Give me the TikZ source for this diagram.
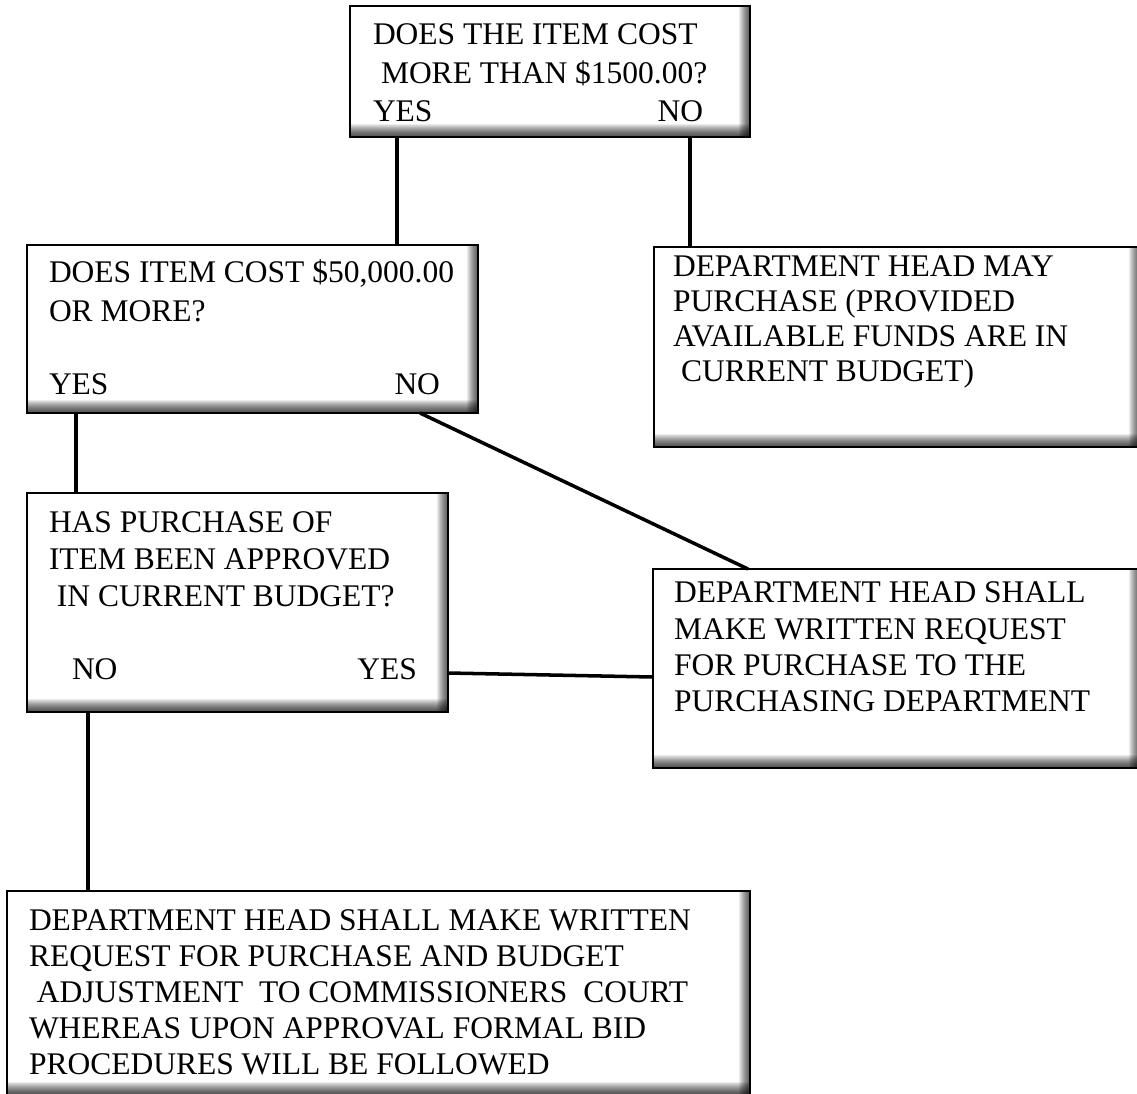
\documentclass[tikz,border=0pt]{standalone}
\usepackage{fontspec}
\setmainfont{Liberation Serif}
\usetikzlibrary{calc}

% one pixel of the sheet
\newlength{\pxu}
\setlength{\pxu}{0.025cm}
% box text: width, height, left inset, top gap, line pitch, lines
\newcommand{\boxtext}[6]{%
  \parbox[c][#2\pxu][t]{#1\pxu}{\leftskip=#3\pxu\rightskip=0pt plus 1fil
    \baselineskip=#5\pxu\vspace*{#4\pxu}#6}}
\newcommand{\lead}{\hspace*{8\pxu}}

\begin{document}
\begin{tikzpicture}[x=0.025cm, y=-0.025cm,
  flowbox/.style={draw, line width=1.4pt, fill=white, inner sep=0pt,
    outer sep=0pt, anchor=north west, font=\fontsize{22.4}{27}\selectfont,
    path picture={
      % soft inner shadow, bottom and right
      \foreach \k in {1,...,13}
        \fill[black, fill opacity=0.08]
          ($(path picture bounding box.south west)+(0,-\k)$)
          rectangle (path picture bounding box.south east);
      \foreach \k in {1,...,11}
        \fill[black, fill opacity=0.08]
          ($(path picture bounding box.north east)+(-\k,0)$)
          rectangle (path picture bounding box.south east);
    }},
  link/.style={line width=2.5pt}]

\useasboundingbox (0,0) rectangle (1137,1093);

% Questions
\node[flowbox] (over1500) at (350,6) {\boxtext{400}{131}{23}{18}{38.5}{%
  DOES THE ITEM COST\\\lead MORE THAN \$1500.00?\\\makebox[330\pxu]{YES\hfill NO}}};
\node[flowbox] (over50k) at (27,245) {\boxtext{451}{168}{22}{15}{39}{%
  DOES ITEM COST \$50,000.00\\OR MORE?\\[34\pxu]\makebox[391\pxu]{YES\hfill NO}}};
\node[flowbox] (approved) at (27,493) {\boxtext{421}{219}{22}{19}{37}{%
  HAS PURCHASE OF\\ITEM BEEN APPROVED\\\lead IN CURRENT BUDGET?\\[36\pxu]%
  \hspace*{23\pxu}\makebox[345\pxu]{NO\hfill YES}}};

% Outcomes
\node[flowbox] (mayBuy) at (654,247) {\boxtext{486}{200}{19}{9}{35}{%
  DEPARTMENT HEAD MAY\\PURCHASE (PROVIDED\\AVAILABLE FUNDS ARE IN\\\lead CURRENT BUDGET)}};
\node[flowbox] (requestPD) at (653,569) {\boxtext{487}{199}{21}{13}{36.3}{%
  DEPARTMENT HEAD SHALL\\MAKE WRITTEN REQUEST\\FOR PURCHASE TO THE\\PURCHASING DEPARTMENT}};
\node[flowbox] (requestCC) at (7,891) {\boxtext{743}{204}{22}{19}{36}{%
  DEPARTMENT HEAD SHALL MAKE WRITTEN\\REQUEST FOR PURCHASE AND BUDGET\\
  \lead ADJUSTMENT\ \ TO COMMISSIONERS\ \ COURT\\WHEREAS UPON APPROVAL FORMAL BID\\
  PROCEDURES WILL BE FOLLOWED}};

% Connectors
\draw[link] ($(over1500.south west)+(47,0)$) -- ($(over50k.north west)+(370,0)$);
\draw[link] ($(over1500.south west)+(340,0)$) -- ($(mayBuy.north west)+(36,0)$);
\draw[link] ($(over50k.south west)+(49,0)$) -- ($(approved.north west)+(49,0)$);
\draw[link] ($(over50k.south west)+(393,0)$) -- ($(requestPD.north west)+(95,0)$);
\draw[link] ($(approved.north east)+(0,180)$) -- ($(requestPD.north west)+(0,108)$);
\draw[link] ($(approved.south west)+(61,0)$) -- ($(requestCC.north west)+(81,0)$);

\end{tikzpicture}
\end{document}
